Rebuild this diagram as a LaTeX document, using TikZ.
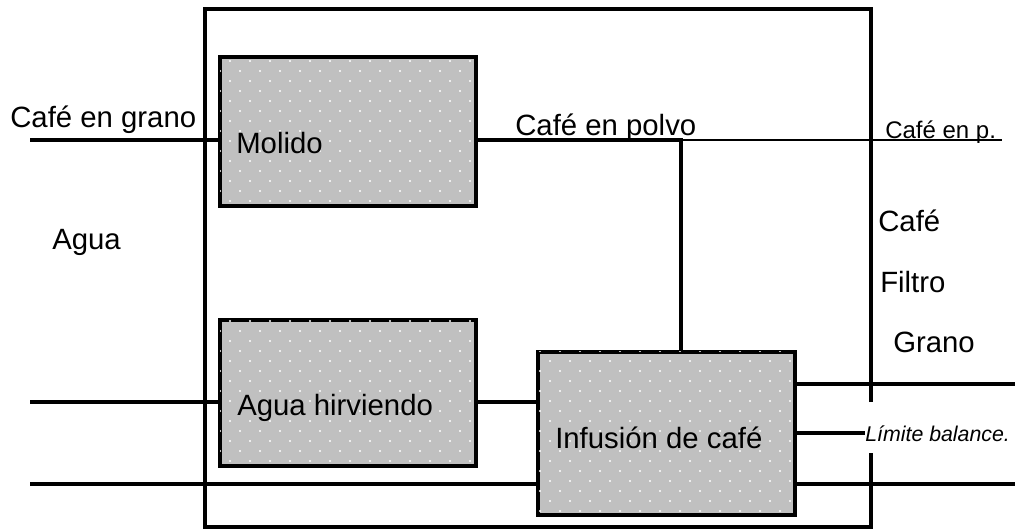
\documentclass[tikz,border=0pt]{standalone}
\usepackage{fontspec}
\setmainfont{Liberation Sans}
\usetikzlibrary{patterns}

\pgfdeclarepatternformonly{puntos}{\pgfqpoint{-1pt}{-1pt}}{\pgfqpoint{14pt}{14pt}}{\pgfqpoint{15pt}{15pt}}{%
  \pgfpathcircle{\pgfqpoint{0pt}{0pt}}{0.8pt}%
  \pgfpathcircle{\pgfqpoint{7.5pt}{7.5pt}}{0.8pt}%
  \pgfusepath{fill}}

\definecolor{grisproceso}{HTML}{C0C0C0}

\tikzset{
  proceso/.style={draw, line width=3.6pt, fill=grisproceso,
    postaction={pattern=puntos, pattern color=white},
    minimum width=192pt, inner sep=0pt},
  texto/.style={font=\fontsize{22}{26}\selectfont, inner sep=0pt, anchor=base west},
  textochico/.style={font=\fontsize{18}{22}\selectfont, inner sep=0pt, anchor=base west},
  flujo/.style={line width=3.2pt},
  flujofino/.style={line width=1.2pt}
}

\begin{document}
\begin{tikzpicture}[x=0.75pt, y=-0.75pt]
	\useasboundingbox (0,0) rectangle (1015,531);

	% limite del balance
	\draw[line width=3pt] (871,402) -- (871,9) -- (205,9) -- (205,527) -- (871,527) -- (871,453);

	% procesos
	\node[proceso, minimum height=111.75pt] (molido) at (348,131.5) {};
	\node[proceso, minimum height=109.5pt] (agua) at (348,393) {};
	\node[proceso, minimum width=192.75pt, minimum height=122.25pt] (infusion) at (666.5,433.5) {};
	\node[texto] (molidoTxt) at (236,154) {Molido};
	\node[texto] (aguaTxt) at (237,415) {Agua hirviendo};
	\node[texto] (infusionTxt) at (555,448) {Infusión de café};

	% entradas
	\coordinate (granoIn) at (30,140);
	\coordinate (aguaIn) at (30,402);
	\coordinate (fondoIn) at (30,484);
	\draw[flujo] (granoIn) -- (granoIn -| molido.west);
	\draw[flujo] (aguaIn) -- (aguaIn -| agua.west);
	\draw[flujo] (aguaIn -| agua.east) -- (aguaIn -| infusion.west);
	\draw[flujo] (fondoIn) -- (fondoIn -| infusion.west);

	% cafe en polvo
	\coordinate (polvo) at (681,140);
	\coordinate (polvoOut) at (1002,140);
	\draw[flujo] (molido.east |- polvo) -- (polvo) -- (polvo |- infusion.north);
	\draw[flujofino] (polvo) -- (polvoOut);

	% salidas
	\coordinate (salidaA) at (1015,384);
	\coordinate (salidaB) at (1015,484);
	\node[font=\fontsize{16}{20}\selectfont\itshape, inner sep=0pt, anchor=base west] (limite) at (865,441) {Límite balance.};
	\draw[flujo] (infusion.east |- salidaA) -- (salidaA);
	\draw[flujo] (infusion.east |- limite.west) -- (limite.west);
	\draw[flujo] (infusion.east |- salidaB) -- (salidaB);

	%Beschriftung
	\node[texto] (granoTxt) at (10,128) {Café en grano};
	\node[texto] (aguaLbl) at (52,250) {Agua};
	\node[texto] (polvoTxt) at (515,136) {Café en polvo};
	\node[textochico] (polvoP) at (885,139) {Café en p.};
	\node[texto] (cafeTxt) at (878,232) {Café};
	\node[texto] (filtroTxt) at (880,293) {Filtro};
	\node[texto] (granoLbl) at (893,353) {Grano};
\end{tikzpicture}
\end{document}
